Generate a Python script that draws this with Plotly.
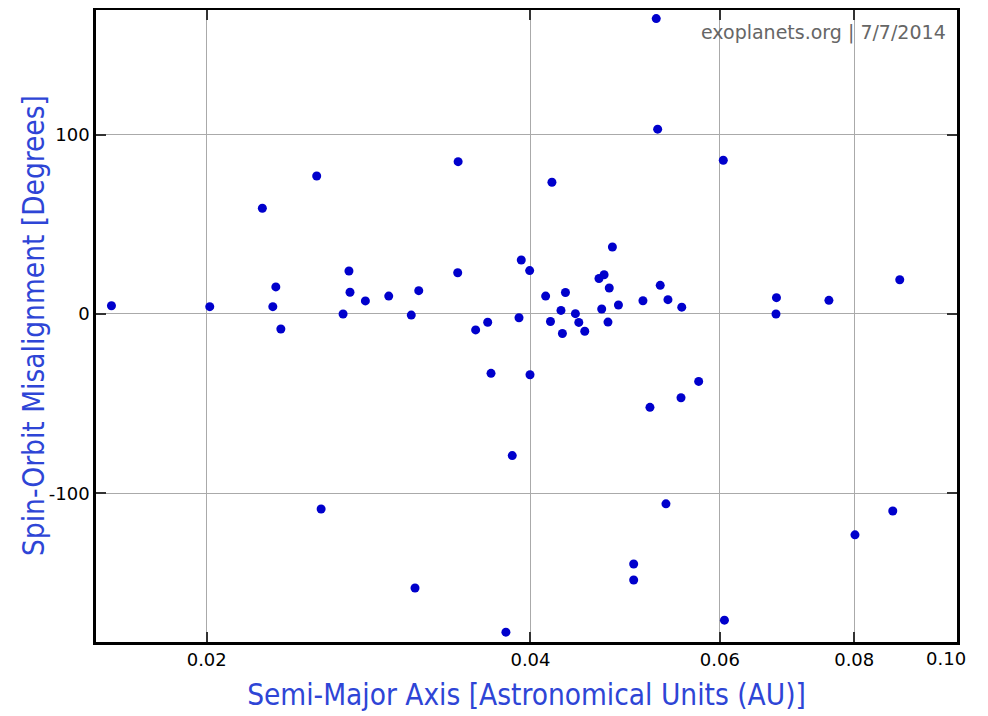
import math
import plotly.graph_objects as go

# Semi-major axis [AU]
semi_major_axis = [
    0.01631, 0.02013, 0.02253, 0.02304, 0.02319, 0.02344, 0.02531, 0.02678, 0.02712, 0.02718,
    0.02809, 0.02953, 0.03099, 0.03149, 0.03426, 0.03423, 0.03557, 0.03650, 0.03903, 0.03922,
    0.03993, 0.04132, 0.04175, 0.04188, 0.04270, 0.04311, 0.04283, 0.04404, 0.04436, 0.04493,
    0.04632, 0.04683, 0.04659, 0.04722, 0.04735, 0.04767, 0.04829, 0.05089, 0.05236, 0.05252,
    0.05281, 0.05369, 0.05530, 0.06044, 0.06773, 0.06766, 0.07578, 0.08819, 0.02555, 0.03124,
    0.03676, 0.03996, 0.03847, 0.05166, 0.05521, 0.05734, 0.05346, 0.04989, 0.04989, 0.03795,
    0.06059, 0.08013, 0.08688,
]
# Spin-orbit misalignment [degrees]
misalignment = [
    4.6, 4.1, 59.0, 4.1, 15.1, -8.4, 77.0, 0.0, 24.0, 12.1,
    7.3, 10.0, -0.6, 13.0, 85.0, 23.0, -8.9, -4.6, -2.1, 30.1,
    24.2, 10.0, -4.2, 73.5, 2.0, 12.0, -10.9, 0.2, -4.7, -9.6,
    19.8, 21.9, 2.8, -4.5, 14.5, 37.4, 5.0, 7.4, 164.8, 103.1,
    16.0, 8.0, 3.8, 85.8, 9.1, 0.0, 7.6, 19.1, -108.8, -152.9,
    -33.1, -33.9, -79.0, -52.1, -46.7, -37.6, -105.9, -139.5, -148.4, -177.5,
    -170.8, -123.2, -109.9,
]

x_tick_vals = [0.02, 0.04, 0.06, 0.08, 0.10]
x_tick_text = ["0.02", "0.04", "0.06", "0.08", "0.10"]
y_tick_vals = [-100, 0, 100]
y_tick_text = ["-100", "0", "100"]

x_range = [0.015779, 0.09969]
y_range = [-183.0, 169.6]

x_title = "Semi-Major Axis [Astronomical Units (AU)]"
y_title = "Spin-Orbit Misalignment [Degrees]"
watermark = "exoplanets.org | 7/7/2014"

fig = go.Figure(
    go.Scatter(
        x=semi_major_axis,
        y=misalignment,
        mode="markers",
        marker=dict(color="#0000CC", size=9, line=dict(width=0)),
        showlegend=False,
    )
)

title_font = dict(family="DejaVu Sans Condensed, DejaVu Sans", size=29.5, color="#2E45D6")
tick_font = dict(family="DejaVu Sans", size=18, color="black")

# last tick label (at the right edge) drawn separately, shifted left as in the original
shown_x_text = x_tick_text[:-1] + [""]

common_axis = dict(
    ticks="inside",
    ticklen=10,
    tickwidth=1.5,
    tickcolor="#333",
    showline=True,
    linecolor="black",
    linewidth=2.5,
    mirror="ticks",
    showgrid=True,
    gridcolor="#AAAAAA",
    gridwidth=1,
    zeroline=False,
    tickfont=tick_font,
    automargin=False,
)

fig.update_xaxes(
    type="log",
    range=[math.log10(v) for v in x_range],
    tickvals=x_tick_vals,
    ticktext=shown_x_text,
    title=dict(text=x_title, font=title_font, standoff=16),
    **common_axis,
)
fig.update_yaxes(
    range=y_range,
    tickvals=y_tick_vals,
    ticktext=y_tick_text,
    **common_axis,
)

# y-axis title (placed close to the tick labels, as in the original)
fig.add_annotation(
    text=y_title,
    xref="paper", yref="paper",
    x=0, y=0.5, xanchor="center", yanchor="middle",
    xshift=-62,
    textangle=-90,
    showarrow=False,
    font=title_font,
)

fig.add_annotation(
    text=x_tick_text[-1],
    xref="x domain", yref="y domain",
    x=1, y=0,
    xanchor="center", yanchor="top",
    xshift=-11, yshift=-4,
    showarrow=False,
    font=tick_font,
)

fig.add_annotation(
    text=watermark,
    xref="x domain", yref="y domain",
    x=1, y=1, xanchor="right", yanchor="top",
    xshift=-9, yshift=-9,
    showarrow=False,
    font=dict(family="DejaVu Sans", size=19, color="#666666"),
)

fig.update_layout(
    width=980,
    height=708,
    margin=dict(l=88, r=31, t=2, b=74),
    paper_bgcolor="white",
    plot_bgcolor="white",
)

fig.write_html("out.html")
